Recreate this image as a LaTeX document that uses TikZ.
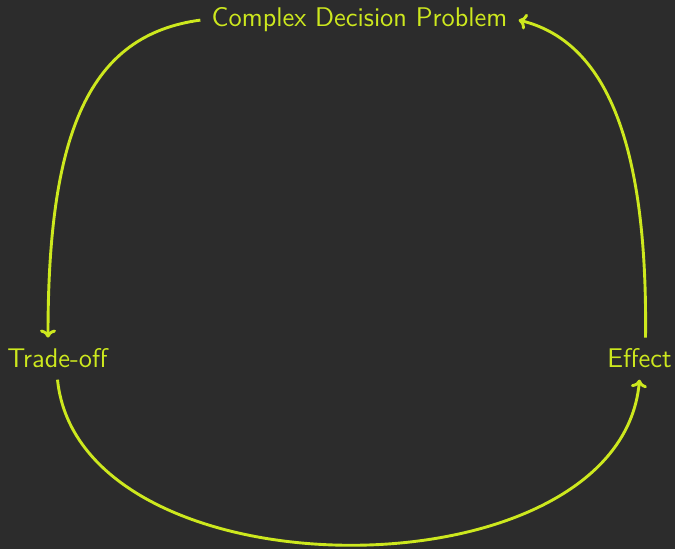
\documentclass[tikz,border=0pt]{standalone}
\usetikzlibrary{arrows.meta}
\definecolor{bgc}{RGB}{44,44,44}
\definecolor{fgc}{RGB}{205,232,30}
\begin{document}
\begin{tikzpicture}[x=0.5pt,y=-0.5pt,
  lbl/.style={text=fgc,font=\sffamily\fontsize{13.5}{16}\selectfont,inner xsep=5.5pt,inner ysep=5.5pt,anchor=base},
  conn/.style={draw=fgc,line width=1.45pt,-{Computer Modern Rightarrow[length=4pt,width=8pt]}}]
\fill[bgc] (0,0) rectangle (675,549);
\useasboundingbox (0,0) rectangle (675,549);
\node[lbl] (cdp) at (359.5,27) {Complex Decision Problem};
\node[lbl] (to) at (57.5,368) {Trade-off};
\node[lbl] (ef) at (639.5,368) {Effect};
\draw[conn] (cdp.west) .. controls (90,35) and (48,130) .. ([xshift=-4.75pt]to.north);
\draw[conn] (to.south) .. controls (80,600) and (620,600) .. (ef.south);
\draw[conn] ([xshift=3pt]ef.north) .. controls (648,130) and (600,40) .. (cdp.east);
\end{tikzpicture}
\end{document}
